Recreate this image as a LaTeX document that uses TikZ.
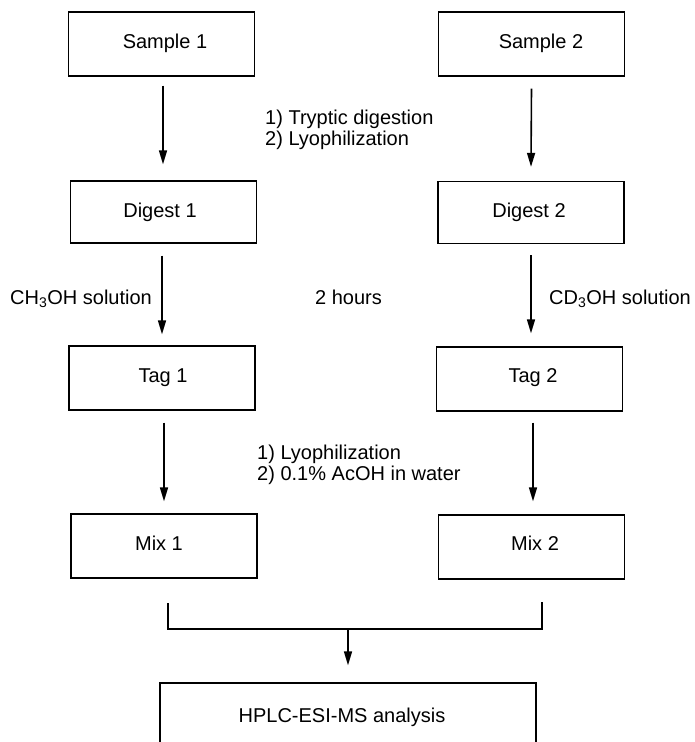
\documentclass[tikz,border=0pt]{standalone}
\usepackage{fontspec}
\setmainfont{Liberation Sans}
\usetikzlibrary{arrows.meta}
\begin{document}
\begin{tikzpicture}[x=1pt,y=-1pt,
  txt/.style={font=\fontsize{20}{22}\selectfont, inner sep=0pt},
  box/.style={draw, line width=1.3pt, minimum width=186pt, minimum height=64pt, inner sep=0pt},
  arr/.style={line width=1.6pt, -{Triangle[length=14pt,width=8pt]}},
  link/.style={line width=1.3pt}]
\useasboundingbox (0,0) rectangle (695,742);
\clip (0,0) rectangle (695,742);
% boxes
\node[box, label={[txt,xshift=3.5pt,yshift=1pt]center:Sample 1}] (S1) at (161.5,44) {};
\node[box, label={[txt,xshift=9.5pt,yshift=1pt]center:Sample 2}] (S2) at (531.5,44) {};
\node[box, minimum height=62pt, label={[txt,xshift=-3.5pt]center:Digest 1}] (D1) at (163.5,212) {};
\node[box, minimum height=62pt, label={[txt,xshift=-2pt]center:Digest 2}] (D2) at (531,212.5) {};
\node[box, label={[txt,xshift=1pt]center:Tag 1}] (T1) at (162,378) {};
\node[box, label={[txt,xshift=3.5pt,yshift=1pt]center:Tag 2}] (T2) at (529.5,379) {};
\node[box, label={[txt,xshift=-5pt,yshift=3pt]center:Mix 1}] (M1) at (164,546) {};
\node[box, label={[txt,xshift=3.5pt,yshift=4pt]center:Mix 2}] (M2) at (531.5,547) {};
\node[box, minimum width=376pt, minimum height=80pt, label={[txt,xshift=-6pt,yshift=6pt]center:HPLC-ESI-MS analysis}] (H) at (348,723) {};
% arrows
\draw[arr] ([xshift=1.5pt,yshift=-9pt]S1.south) -- ([xshift=1.5pt,yshift=16pt]D1.north -| S1.south);
\draw[arr] ([yshift=-12pt]S2.south) -- ([yshift=14pt]D2.north);
\draw[arr] ([xshift=-1.5pt,yshift=-12pt]D1.south) -- ([xshift=-1.5pt,yshift=11pt]T1.north -| D1.south);
\draw[arr] ([yshift=-11pt]D2.south) -- ([yshift=13pt]T2.north -| D2.south);
\draw[arr] ([xshift=2pt,yshift=-12pt]T1.south) -- ([xshift=2pt,yshift=12pt]M1.north -| T1.south);
\draw[arr] ([xshift=3.5pt,yshift=-11pt]T2.south) -- ([xshift=3.5pt,yshift=13pt]M2.north -| T2.south);
% merge bracket
\coordinate (bl) at (168,603);
\coordinate (blc) at (168,629);
\coordinate (brc) at (542,629);
\coordinate (br) at (542,602);
\coordinate (bm) at (348,629);
\draw[link] (bl) -- (blc) -- (brc) -- (br);
\draw[arr] (bm) -- ([yshift=17pt]H.north);
% step labels
\node[txt, anchor=base west] (l1a) at (265,124) {1) Tryptic digestion};
\node[txt, anchor=base west] (l1b) at (265,145) {2) Lyophilization};
\node[txt, anchor=base west] (l2a) at (10,304) {CH\textsubscript{3}OH solution};
\node[txt, anchor=base west] (l2b) at (315,304) {2 hours};
\node[txt, anchor=base west] (l2c) at (549,304) {CD\textsubscript{3}OH solution};
\node[txt, anchor=base west] (l3a) at (257,459) {1) Lyophilization};
\node[txt, anchor=base west] (l3b) at (257,480) {2) 0.1\% AcOH in water};
\end{tikzpicture}
\end{document}
